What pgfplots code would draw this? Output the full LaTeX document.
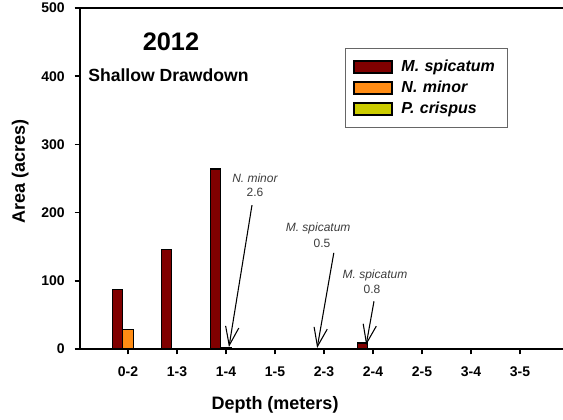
\documentclass[border=0pt]{standalone}
\usepackage{pgfplots}
\pgfplotsset{compat=1.18}
\usepackage{fontspec}
\setmainfont{Liberation Sans}
\usetikzlibrary{arrows.meta}
\definecolor{mspic}{RGB}{128,0,0}
\definecolor{nmin}{RGB}{255,140,20}
\definecolor{pcri}{RGB}{204,204,0}
\definecolor{anno}{RGB}{60,60,60}
\begin{document}
\begin{tikzpicture}
\useasboundingbox (0pt,0pt) rectangle (422.25pt,-315pt);
\begin{axis}[
  at={(60pt,-261.75pt)}, anchor=south west,
  scale only axis, width=367.5pt, height=255.75pt,
  xmin=-0.98, xmax=9.02, ymin=0, ymax=500,
  axis line style={line width=1.5pt},
  ybar=0pt, bar width=7.875pt,
  xtick={0,1,2,3,4,5,6,7,8},
  xticklabels={0-2,1-3,1-4,1-5,2-3,2-4,2-5,3-4,3-5},
  ytick={0,100,200,300,400,500},
  tick align=outside, major tick length=4pt,
  tick style={line width=1.2pt, black},
  xtick pos=bottom, ytick pos=left,
  /pgf/number format/assume math mode=true,
  ticklabel style={font=\bfseries\fontsize{10.5}{12}\selectfont},
  xticklabel style={yshift=-6pt},
  yticklabel style={xshift=-4pt},
  xlabel={Depth (meters)}, ylabel={Area (acres)},
  label style={font=\bfseries\fontsize{13.5}{15}\selectfont},
  xlabel style={at={(axis description cs:0.398,-0.164)}, anchor=center},
  ylabel style={at={(axis description cs:-0.122,0.52)}, anchor=center},
  legend cell align=left,
  legend image code/.code={\draw[#1] (0pt,-4.5pt) rectangle (28.5pt,4.5pt);},
  legend style={at={(axis description cs:0.541,0.883)}, anchor=north west,
    draw=black!60, line width=0.6pt, inner xsep=6pt, inner ysep=7.5pt,
    row sep=2.5pt,
    /tikz/every odd column/.append style={column sep=5pt},
    /tikz/every even column/.append style={text width=72pt},
    font=\bfseries\itshape\fontsize{12}{13}\selectfont,
    nodes={inner sep=1.5pt}},
  clip=false,
]
\addplot[fill=mspic, draw=black, line width=1pt] coordinates {(0,87) (1,146) (2,264) (4,0.5) (5,9)};
\addlegendentry{M. spicatum}
\addplot[fill=nmin, draw=black, line width=1pt] coordinates {(0,29) (2,2.6)};
\addlegendentry{N. minor}
\addplot[fill=pcri, draw=black, line width=1pt] coordinates {(0,0)};
\addlegendentry{P. crispus}
% top frame line
\draw[line width=1.5pt] (rel axis cs:0,1) -- (rel axis cs:1,1);
% annotations
\begin{scope}[font=\fontsize{9}{10}\selectfont, text=anno]
\node at (axis cs:2.59,251) {\itshape N. minor};
\node at (axis cs:2.59,229) {2.6};
\node at (axis cs:3.88,177) {\itshape M. spicatum};
\node at (axis cs:3.96,155) {0.5};
\node at (axis cs:5.04,108) {\itshape M. spicatum};
\node at (axis cs:4.98,87) {0.8};
\end{scope}
\begin{scope}[line width=0.8pt, -{Straight Barb[length=14pt,width=10pt]}]
\draw (axis cs:2.53,211) -- (axis cs:2.06,3);
\draw (axis cs:4.20,141) -- (axis cs:3.86,1.5);
\draw (axis cs:5.02,70) -- (axis cs:4.86,6);
\end{scope}
\end{axis}
\node[font=\bfseries\fontsize{19}{21}\selectfont] at (128.25pt,-31.5pt) {2012};
\node[font=\bfseries\fontsize{13.2}{15}\selectfont, anchor=west, inner sep=0pt] at (66pt,-56.25pt) {Shallow Drawdown};
\end{tikzpicture}
\end{document}
